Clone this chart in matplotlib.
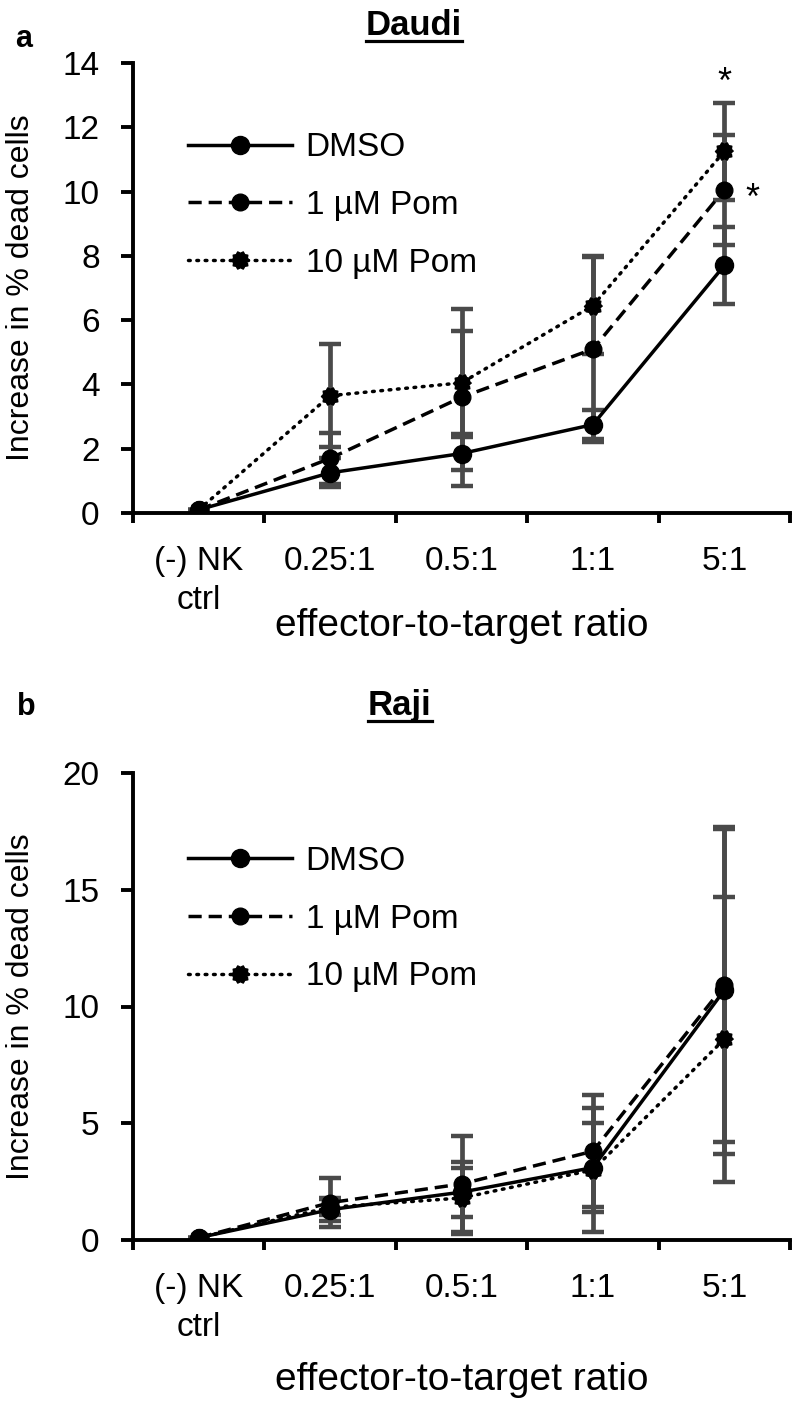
import numpy as np
import matplotlib
matplotlib.use("Agg")
import matplotlib.pyplot as plt
from matplotlib import font_manager
from matplotlib.lines import Line2D

# ---------------- data ----------------
categories = ["(-) NK\nctrl", "0.25:1", "0.5:1", "1:1", "5:1"]
series_labels = ["DMSO", "1 µM Pom", "10 µM Pom"]

daudi_dmso = [0.1, 1.25, 1.85, 2.75, 7.7]
daudi_dmso_err = [0.0, 0.45, 0.5, 0.45, 1.2]
daudi_pom1 = [0.1, 1.7, 3.6, 5.1, 10.05]
daudi_pom1_err = [0.0, 0.8, 2.75, 2.9, 1.7]
daudi_pom10 = [0.1, 3.65, 4.05, 6.45, 11.25]
daudi_pom10_err = [0.0, 1.6, 1.6, 1.5, 1.5]

raji_dmso = [0.1, 1.3, 2.05, 3.1, 10.7]
raji_dmso_err = [0.0, 0.5, 1.05, 1.9, 7.0]
raji_pom1 = [0.1, 1.6, 2.4, 3.8, 10.9]
raji_pom1_err = [0.0, 1.05, 2.05, 2.4, 6.7]
raji_pom10 = [0.1, 1.4, 1.8, 3.0, 8.6]
raji_pom10_err = [0.0, 0.35, 1.55, 2.65, 6.1]

daudi_yticks = [0, 2, 4, 6, 8, 10, 12, 14]
raji_yticks = [0, 5, 10, 15, 20]

# ---------------- fonts ----------------
names = {f.name for f in font_manager.fontManager.ttflist}
FONT = "Liberation Sans" if "Liberation Sans" in names else "DejaVu Sans"
plt.rcParams["font.family"] = [FONT, "DejaVu Sans"]

W, H = 800, 1407
fig = plt.figure(figsize=(W / 100, H / 100), dpi=100)

def px_axes(left, top, right, bottom):
    return fig.add_axes([left / W, 1 - bottom / H, (right - left) / W, (bottom - top) / H])

ax_top = px_axes(133, 63, 790, 513)
ax_bot = px_axes(133, 773, 790, 1240)

# gear-like marker for 10 uM
ang = np.linspace(0, 2 * np.pi, 21)[:-1]
rad = np.where(np.arange(20) % 2 == 0, 1.0, 0.8)
gear = list(zip(rad * np.cos(ang), rad * np.sin(ang)))

styles = [
    dict(ls="-", marker="o", ms=13),
    dict(ls=(0, (3.8, 2.0)), marker="o", ms=12),
    dict(ls=(0, (0.5, 1.9)), marker=gear, ms=13),
]

LW = 2.5
ERRC = "#4a4a4a"
TICKFS = 24


def draw_panel(ax, vals, errs, ylim, yticks, xlabel_y, legend_anchor):
    x = np.arange(len(categories))
    for v, e in zip(vals, errs):
        ax.errorbar(x, v, yerr=e, fmt="none", ecolor=ERRC, elinewidth=3.4,
                    capsize=8, capthick=3.2, zorder=2)
    handles = []
    for v, st, lab in zip(vals, styles, series_labels):
        h, = ax.plot(x, v, color="black", lw=LW, linestyle=st["ls"],
                     marker=st["marker"], ms=st["ms"], mfc="black", mec="black",
                     dash_capstyle="round" if lab.startswith("10") else "butt",
                     label=lab, zorder=3)
        handles.append(h)
    ax.set_xlim(-0.5, len(categories) - 0.5)
    ax.set_ylim(*ylim)
    ax.set_yticks(yticks)
    ax.set_xticks(x)
    ax.set_xticklabels(categories, fontsize=TICKFS, linespacing=1.3)
    ax.set_xticks(np.arange(-0.5, len(categories), 1.0), minor=True)
    ax.tick_params(axis="x", which="major", length=0, pad=24)
    ax.tick_params(axis="x", which="minor", length=7, width=2.8, direction="out")
    ax.tick_params(axis="y", which="major", length=9, width=2.8, direction="out",
                   pad=15, labelsize=TICKFS)
    for s in ["top", "right"]:
        ax.spines[s].set_visible(False)
    for s in ["left", "bottom"]:
        ax.spines[s].set_linewidth(2.8)
    ax.set_ylabel("Increase in % dead cells", fontsize=23)
    ax.yaxis.label.set_verticalalignment("center")
    ax.yaxis.set_label_coords(-0.171, 0.5)
    ax.set_xlabel("effector-to-target ratio", fontsize=28)
    ax.xaxis.set_label_coords(0.5, xlabel_y)
    ax.xaxis.label.set_verticalalignment("center")
    leg = ax.legend(handles=handles, loc="upper left", bbox_to_anchor=legend_anchor,
                    frameon=False, fontsize=TICKFS, handlelength=3.1,
                    handletextpad=0.42, labelspacing=0.8, borderpad=0,
                    borderaxespad=0)
    return leg


draw_panel(ax_top, [daudi_dmso, daudi_pom1, daudi_pom10],
           [daudi_dmso_err, daudi_pom1_err, daudi_pom10_err],
           (0, 14), daudi_yticks, -0.252, (0.084, 0.846))
draw_panel(ax_bot, [raji_dmso, raji_pom1, raji_pom10],
           [raji_dmso_err, raji_pom1_err, raji_pom10_err],
           (0, 20), raji_yticks, -0.30, (0.084, 0.844))

# significance asterisks
ax_top.text(4, 13.35, "*", ha="center", va="center", fontsize=26)
ax_top.text(4.21, 9.75, "*", ha="center", va="center", fontsize=26)

# titles and panel letters
titles = [
    fig.text(414 / W, 1 - 35 / H, "Daudi", ha="center", va="baseline", fontsize=25, fontweight="bold"),
    fig.text(400 / W, 1 - 715 / H, "Raji", ha="center", va="baseline", fontsize=25, fontweight="bold"),
]
fig.text(24 / W, 1 - 47 / H, "a", ha="center", va="baseline", fontsize=22, fontweight="bold")
fig.text(26 / W, 1 - 715 / H, "b", ha="center", va="baseline", fontsize=22, fontweight="bold")

# underline titles
fig.canvas.draw()
r = fig.canvas.get_renderer()
for t, base in zip(titles, [35, 715]):
    bb = t.get_window_extent(r)
    yline = H - (base + 6)
    fig.add_artist(Line2D([bb.x0 / W, bb.x1 / W], [yline / H, yline / H],
                          transform=fig.transFigure, color="black", lw=2.3))

fig.savefig("out.png", dpi=100)
